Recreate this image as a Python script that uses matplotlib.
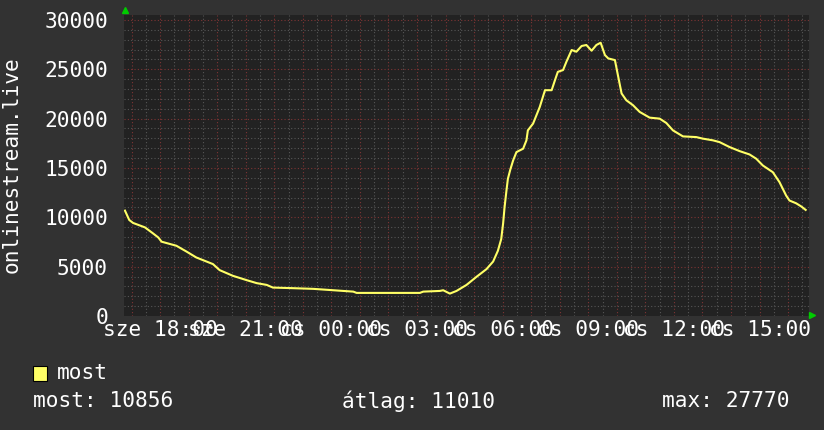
"""
    Redraws the onlinestream.live 24h viewer graph (rrdtool look)
"""
import matplotlib
matplotlib.use('Agg')
import matplotlib.pyplot as plt
from matplotlib.patches import Rectangle

# samples: local time, viewers
times = [
    '16:46', '16:55', '17:03', '17:28', '17:45', '17:56', '18:03', '18:34',
    '18:55', '19:16', '19:51', '20:05', '20:33', '21:02', '21:23', '21:44',
    '21:57', '22:39', '23:22', '00:04', '00:46', '00:53', '03:06', '03:13',
    '03:48', '03:55', '04:09', '04:23', '04:44', '05:05', '05:26', '05:40',
    '05:50', '05:57', '06:01', '06:04', '06:08', '06:11', '06:16', '06:22',
    '06:29', '06:43', '06:50', '06:53', '07:04', '07:11', '07:18', '07:29',
    '07:43', '07:50', '07:56', '08:07', '08:14', '08:25', '08:35', '08:46',
    '08:56', '09:07', '09:17', '09:26', '09:35', '09:42', '09:56', '10:03',
    '10:10', '10:20', '10:34', '10:48', '11:09', '11:30', '11:44', '11:58',
    '12:19', '12:47', '13:01', '13:22', '13:36', '13:57', '14:18', '14:39',
    '14:53', '15:07', '15:28', '15:42', '15:56', '16:03', '16:17', '16:28',
    '16:37',
]
viewers = [
    10680, 9730, 9430, 8980, 8370, 7960, 7530, 7120,
    6540, 5930, 5260, 4650, 4070, 3630, 3330, 3150,
    2880, 2820, 2750, 2610, 2470, 2340, 2340, 2470,
    2540, 2610, 2270, 2540, 3150, 3970, 4750, 5520,
    6610, 7800, 9390, 11010, 12710, 13900, 14820, 15760,
    16610, 16950, 17800, 18810, 19500, 20340, 21180, 22880,
    22880, 23900, 24740, 24920, 25760, 26950, 26780, 27360,
    27460, 26880, 27460, 27690, 26440, 26100, 25930, 24230,
    22550, 21860, 21360, 20680, 20100, 20000, 19560, 18810,
    18200, 18130, 17970, 17800, 17620, 17120, 16710, 16370,
    15940, 15250, 14570, 13560, 12200, 11700, 11420, 11090,
    10750,
]
tick_hours = [18, 21, 24, 27, 30, 33, 36, 39]
tick_labels = ['sze 18:00', 'sze 21:00', 'cs 00:00', 'cs 03:00',
               'cs 06:00', 'cs 09:00', 'cs 12:00', 'cs 15:00']
legend_name = 'most'
summary = ['most: 10856', 'átlag: 11010', 'max: 27770']

BG = '#323232'
CANVAS = '#222222'
MINOR = '#565656'
MAJOR = '#7e3434'
LINE = '#ffff66'
FONT = 'DejaVu Sans Mono'
FS = 15.2


def to_hours(labels):
    out = []
    day = 0
    prev = None
    for s in labels:
        h, m = s.split(':')
        t = int(h) + int(m) / 60
        if prev is not None and t < prev:
            day += 1
        prev = t
        out.append(t + 24 * day)
    return out


def plot():
    hours = to_hours(times)
    x0 = 16 + 44 / 60

    fig = plt.figure(figsize=(8.24, 4.30), dpi=100, facecolor=BG)
    ax = fig.add_axes([124 / 824, 114 / 430, 685 / 824, 301 / 430])
    ax.set_facecolor(CANVAS)
    ax.set_xlim(x0, x0 + 24)
    ax.set_ylim(0, 30500)

    dots = (0, (1, 2))
    h = int(x0) + 0.5
    while h < x0 + 24:
        major = abs(h - round(h)) < 1e-6
        ax.axvline(h, color=MAJOR if major else MINOR, lw=0.8, ls=dots, zorder=1)
        h += 0.5
    for v in range(1000, 30001, 1000):
        ax.axhline(v, color=MAJOR if v % 5000 == 0 else MINOR, lw=0.8, ls=dots, zorder=1)

    ax.plot(hours, viewers, color=LINE, lw=1.5, zorder=3)

    for s in ax.spines.values():
        s.set_visible(False)
    ax.set_xticks(tick_hours)
    ax.set_xticklabels(tick_labels)
    ax.set_yticks(range(0, 30001, 5000))
    ax.tick_params(axis='both', length=0, colors='white', labelsize=FS)
    ax.tick_params(axis='y', pad=11.5)
    ax.tick_params(axis='x', pad=3)
    for lab in ax.get_xticklabels() + ax.get_yticklabels():
        lab.set_family(FONT)

    # axis arrows
    ax.plot([0.001], [1.018], marker='^', color='#00cc00', ms=5, transform=ax.transAxes, clip_on=False)
    ax.plot([1.005], [0.003], marker='>', color='#00cc00', ms=5, transform=ax.transAxes, clip_on=False)

    fig.text(12 / 824, 1 - 165 / 430, 'onlinestream.live', rotation=90, color='white',
             family=FONT, fontsize=FS, ha='center', va='center')

    fig.patches.append(Rectangle((33 / 824, 1 - 381 / 430), 14 / 824, 15 / 430,
                                 transform=fig.transFigure, facecolor=LINE,
                                 edgecolor='black', lw=0.8))
    fig.text(57 / 824, 1 - 373 / 430, legend_name, color='white', family=FONT,
             fontsize=FS, va='center')
    for xpos, txt in zip([33, 341.5, 662], summary):
        fig.text(xpos / 824, 1 - 401 / 430, txt, color='white', family=FONT,
                 fontsize=FS, va='center')

    fig.savefig('out.png', dpi=100, facecolor=BG)
    plt.close()


if __name__ == '__main__':
    plot()
